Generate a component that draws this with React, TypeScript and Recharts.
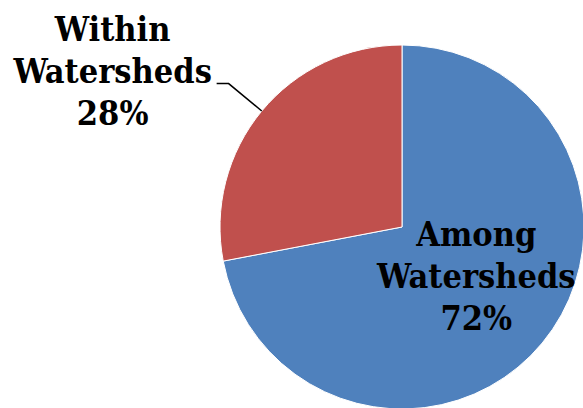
import { PieChart, Pie, Cell } from 'recharts';

const categories = ['Among Watersheds', 'Within Watersheds'];
const shares = [72, 28];
const colors = ['#4F81BD', '#C0504D'];

const data = categories.map((name, i) => ({ name, value: shares[i] }));

const RADIAN = Math.PI / 180;
const FONT = "'DejaVu Serif Condensed', 'DejaVu Serif', serif";
const FS = 34;

function renderLabel(props: any) {
  const { cx, cy, midAngle, outerRadius, name, percent } = props;
  const words = String(name).split(' ');
  const pct = `${Math.round(percent * 100)}%`;
  const lines = [words[0], words[1], pct];
  const cos = Math.cos(-midAngle * RADIAN);
  const sin = Math.sin(-midAngle * RADIAN);

  if (name === 'Among Watersheds') {
    const x = cx + outerRadius * 0.53 * cos;
    const y = cy + outerRadius * 0.53 * sin;
    return (
      <text x={x} y={y} textAnchor="middle" fill="#000" fontFamily={FONT} fontStretch="condensed" fontWeight="bold" fontSize={FS}>
        {lines.map((l, i) => (
          <tspan key={i} x={x} y={y - 42 + i * 42}>
            {l}
          </tspan>
        ))}
      </text>
    );
  }

  const sx = cx + outerRadius * cos;
  const sy = cy + outerRadius * sin;
  const mx = cx + (outerRadius + 43) * cos;
  const my = cy + (outerRadius + 43) * sin;
  const ex = mx - 12;
  const tx = ex - 7 - 97;
  return (
    <g>
      <polyline points={`${sx},${sy} ${mx},${my} ${ex},${my}`} fill="none" stroke="#000" strokeWidth={1.5} />
      <text x={tx} y={my} textAnchor="middle" fill="#000" fontFamily={FONT} fontStretch="condensed" fontWeight="bold" fontSize={FS}>
        {lines.map((l, i) => (
          <tspan key={i} x={tx} y={my - 1 - 42 + i * 42}>
            {l}
          </tspan>
        ))}
      </text>
    </g>
  );
}

export default function App() {
  return (
    <div style={{ position: 'fixed', left: 0, top: 0, width: 583, height: 408, background: '#fff' }}>
      <PieChart width={583} height={408} margin={{ top: 0, right: 0, bottom: 0, left: 0 }}>
        <Pie
          data={data}
          dataKey="value"
          nameKey="name"
          cx={402}
          cy={227}
          outerRadius={182}
          startAngle={90}
          endAngle={-270}
          stroke="#fff"
          strokeWidth={1}
          label={renderLabel}
          labelLine={false}
          isAnimationActive={false}
        >
          {data.map((d, i) => (
            <Cell key={d.name} fill={colors[i]} />
          ))}
        </Pie>
      </PieChart>
    </div>
  );
}
